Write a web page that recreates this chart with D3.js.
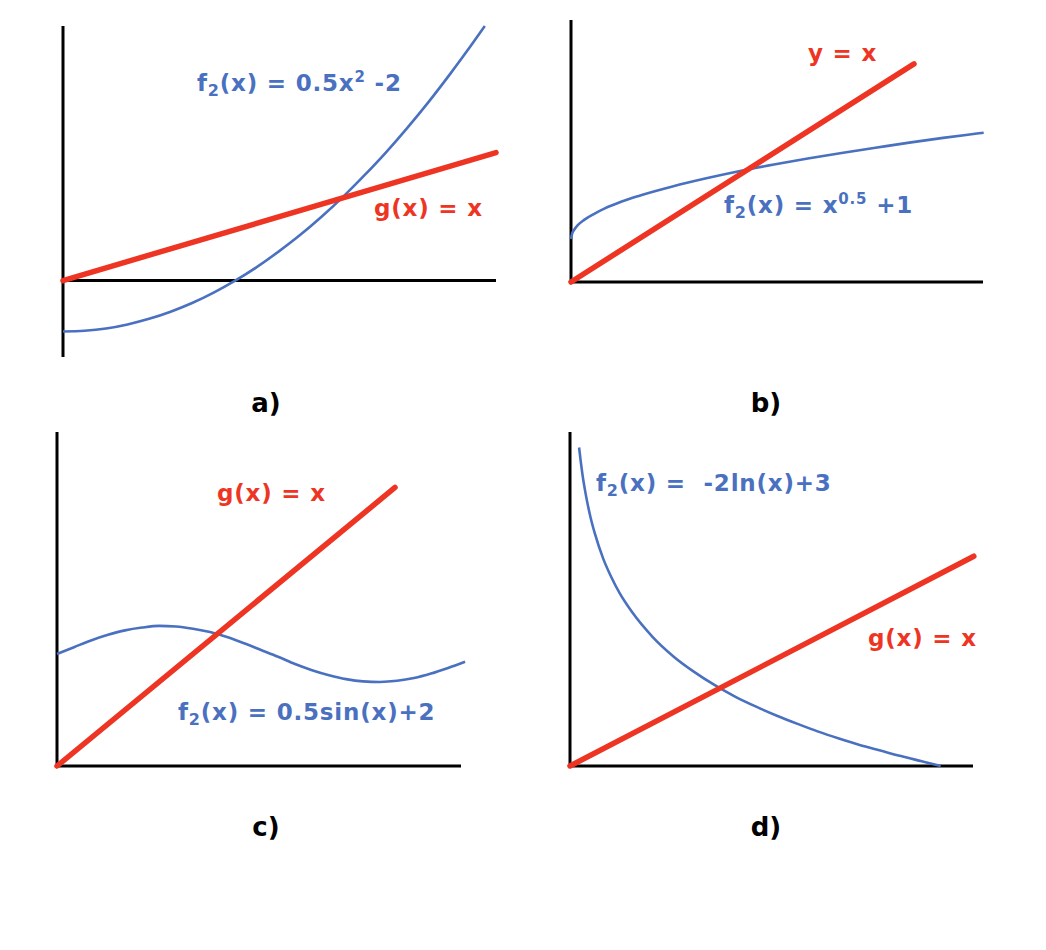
<!DOCTYPE html>
<html>
<head>
<meta charset="utf-8">
<script src="https://cdn.jsdelivr.net/npm/d3@7"></script>
<style>
  body { margin: 0; background: #fff; }
  text { font-family: "DejaVu Sans", Verdana, sans-serif; font-weight: bold; white-space: pre; }
</style>
</head>
<body>
<div id="body"></div>
<script>
// values
var xA = [0, 0.25, 0.5, 0.75, 1, 1.25, 1.5, 1.75, 2, 2.25, 2.5, 2.75, 3, 3.25, 3.5, 3.75, 4, 4.25, 4.5, 4.75, 4.9];
var f2A = [-2, -1.97, -1.88, -1.72, -1.5, -1.22, -0.88, -0.47, 0, 0.53, 1.13, 1.78, 2.5, 3.28, 4.13, 5.03, 6, 7.03, 8.13, 9.28, 10.0];
var gA = [[0, 0], [5.03, 5.03]];

var xB = [0, 0.02, 0.05, 0.1, 0.2, 0.35, 0.5, 0.75, 1, 1.5, 2, 2.5, 3, 3.5, 4, 4.5, 5, 5.5, 6, 6.1];
var f2B = [1, 1.14, 1.22, 1.32, 1.45, 1.59, 1.71, 1.87, 2, 2.22, 2.41, 2.58, 2.73, 2.87, 3, 3.12, 3.24, 3.35, 3.45, 3.47];
var gB = [[0, 0], [5.07, 5.07]];

var xC = [0, 0.25, 0.5, 0.75, 1, 1.25, 1.5, 1.75, 2, 2.25, 2.5, 2.75, 3, 3.25, 3.5, 3.75, 4, 4.25, 4.5, 4.75, 5, 5.25, 5.5, 5.75, 6];
var f2C = [2, 2.12, 2.24, 2.34, 2.42, 2.47, 2.5, 2.49, 2.45, 2.39, 2.3, 2.19, 2.07, 1.95, 1.82, 1.71, 1.62, 1.55, 1.51, 1.5, 1.52, 1.57, 1.65, 1.75, 1.86];
var gC = [[0, 0], [4.97, 4.97]];

var xD = [0.11, 0.13, 0.15, 0.2, 0.25, 0.3, 0.4, 0.5, 0.6, 0.75, 1, 1.25, 1.5, 1.75, 2, 2.25, 2.5, 2.75, 3, 3.25, 3.5, 3.75, 4, 4.25, 4.48];
var f2D = [7.41, 7.08, 6.79, 6.22, 5.77, 5.41, 4.83, 4.39, 4.02, 3.58, 3, 2.55, 2.19, 1.88, 1.61, 1.38, 1.17, 0.98, 0.8, 0.64, 0.49, 0.36, 0.23, 0.11, 0];
var gD = [[0, 0], [4.88, 4.88]];

var panelNames = ["a)", "b)", "c)", "d)"];

var blue = "#4a70c0";
var red = "#ee3524";

var svg = d3.select("#body")
  .append("svg")
  .attr("width", 1046)
  .attr("height", 950);

var panels = [
  { xs: xA, ys: f2A, g: gA, box: [63, 496, 26, 357], xDom: [0, 5.03], yDom: [-3, 10], name: panelNames[0], nameX: 266, nameY: 412 },
  { xs: xB, ys: f2B, g: gB, box: [571, 983, 20, 282], xDom: [0, 6.09], yDom: [0, 6.09], name: panelNames[1], nameX: 766, nameY: 412 },
  { xs: xC, ys: f2C, g: gC, box: [57, 461, 432, 766], xDom: [0, 5.94], yDom: [0, 5.96], name: panelNames[2], nameX: 266, nameY: 836 },
  { xs: xD, ys: f2D, g: gD, box: [570, 973, 432, 766], xDom: [0, 4.87], yDom: [0, 7.77], name: panelNames[3], nameX: 766, nameY: 836 }
];

panels.forEach(function(p, i) {
  var x = d3.scaleLinear().domain(p.xDom).range([p.box[0], p.box[1]]);
  var y = d3.scaleLinear().domain(p.yDom).range([p.box[3], p.box[2]]);

  var g = svg.append("g");

  // axes
  g.append("line")
    .attr("x1", x(0)).attr("x2", x(0))
    .attr("y1", y(p.yDom[0])).attr("y2", y(p.yDom[1]))
    .attr("stroke", "#000")
    .attr("stroke-width", 3);

  g.append("line")
    .attr("x1", x(0)).attr("x2", x(p.xDom[1]))
    .attr("y1", y(0)).attr("y2", y(0))
    .attr("stroke", "#000")
    .attr("stroke-width", 3);

  var pts = p.xs.map(function(d, j) { return [d, p.ys[j]]; });

  g.append("path")
    .datum(pts)
    .attr("fill", "none")
    .attr("stroke", blue)
    .attr("stroke-width", 2.6)
    .attr("d", d3.line()
      .curve(d3.curveMonotoneX)
      .x(function(d) { return x(d[0]); })
      .y(function(d) { return y(d[1]); }));

  g.append("path")
    .datum(p.g)
    .attr("fill", "none")
    .attr("stroke", red)
    .attr("stroke-width", 5.5)
    .attr("stroke-linecap", "round")
    .attr("d", d3.line()
      .x(function(d) { return x(d[0]); })
      .y(function(d) { return y(d[1]); }));

  g.append("text")
    .attr("x", p.nameX)
    .attr("y", p.nameY)
    .attr("text-anchor", "middle")
    .attr("font-size", 26)
    .attr("fill", "#000")
    .text(p.name);
});

// formula labels
function label(x0, y0, color, parts) {
  var t = svg.append("text")
    .attr("x", x0)
    .attr("y", y0)
    .attr("font-size", 23)
    .attr("letter-spacing", 0.8)
    .attr("fill", color);
  parts.forEach(function(s) {
    var sp = t.append("tspan").text(s.t);
    if (s.sub) sp.attr("font-size", 16).attr("dy", 5);
    else if (s.sup) sp.attr("font-size", 15).attr("dy", -9);
    else if (s.back) sp.attr("dy", s.back);
  });
}

label(197, 91, blue, [{ t: "f" }, { t: "2", sub: true }, { t: "(x) = 0.5x", back: -5 }, { t: "2", sup: true }, { t: " -2", back: 9 }]);
label(374, 216, red, [{ t: "g(x) = x" }]);

label(808, 61, red, [{ t: "y = x" }]);
label(724, 213, blue, [{ t: "f" }, { t: "2", sub: true }, { t: "(x) = x", back: -5 }, { t: "0.5", sup: true }, { t: " +1", back: 9 }]);

label(217, 501, red, [{ t: "g(x) = x" }]);
label(178, 720, blue, [{ t: "f" }, { t: "2", sub: true }, { t: "(x) = 0.5sin(x)+2", back: -5 }]);

label(596, 491, blue, [{ t: "f" }, { t: "2", sub: true }, { t: "(x) =  -2ln(x)+3", back: -5 }]);
label(868, 646, red, [{ t: "g(x) = x" }]);
</script>
</body>
</html>
